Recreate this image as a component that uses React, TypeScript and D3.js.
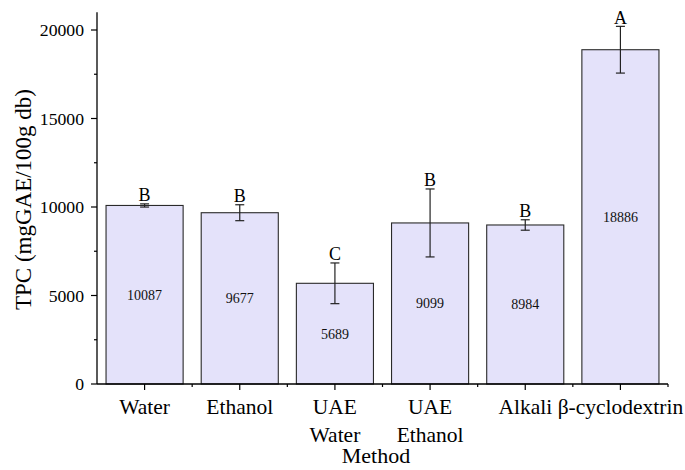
import React from "react";
import * as d3 from "d3";

// TPC by extraction method
const categories = ["Water", "Ethanol", "UAE\nWater", "UAE\nEthanol", "Alkali", "β-cyclodextrin"];
const tpcValues = [10087, 9677, 5689, 9099, 8984, 18886];
const tpcErrors = [90, 450, 1150, 1920, 295, 1320];
const groupLetters = ["B", "B", "C", "B", "B", "A"];
const yMajorTicks = [0, 5000, 10000, 15000, 20000];
const yMinorTicks = [2500, 7500, 12500, 17500];

const W = 685;
const H = 470;
const left = 97;
const right = 668;
const top = 12.3;
const bottom = 384;
const FONT = "Liberation Serif, Times New Roman, Times, DejaVu Serif, serif";

export default function App() {
  const x = d3
    .scaleBand<string>()
    .domain(categories)
    .range([left, right])
    .paddingInner(0.19)
    .paddingOuter(0.095);
  const y = d3.scaleLinear().domain([0, 21000]).range([bottom, top]);
  const step = x.step();
  const boundaries = d3.range(1, categories.length + 1).map((i) => left + i * step);

  return (
    <svg
      width={W}
      height={H}
      style={{ position: "absolute", left: 0, top: 0, background: "#fff", fontFamily: FONT }}
    >
      {/* bars */}
      {categories.map((c, i) => {
        const bx = x(c)!;
        const by = y(tpcValues[i]);
        return (
          <rect
            key={c}
            x={bx}
            y={by}
            width={x.bandwidth()}
            height={bottom - by}
            fill="#e4e2fa"
            stroke="#2a2a2a"
            strokeWidth={1.1}
          />
        );
      })}

      {/* error bars and group letters */}
      {categories.map((c, i) => {
        const cx = x(c)! + x.bandwidth() / 2;
        const hi = y(tpcValues[i] + tpcErrors[i]);
        const lo = y(tpcValues[i] - tpcErrors[i]);
        return (
          <g key={c} stroke="#222" strokeWidth={1.2}>
            <line x1={cx} x2={cx} y1={hi} y2={lo} />
            <line x1={cx - 4.5} x2={cx + 4.5} y1={hi} y2={hi} />
            <line x1={cx - 4.5} x2={cx + 4.5} y1={lo} y2={lo} />
            <text
              x={cx}
              y={hi - 2.5}
              textAnchor="middle"
              fontSize={18}
              fill="#000"
              stroke="none"
              style={{ fontFamily: FONT }}
            >
              {groupLetters[i]}
            </text>
          </g>
        );
      })}

      {/* value labels inside bars */}
      {categories.map((c, i) => (
        <text
          key={c}
          x={x(c)! + x.bandwidth() / 2}
          y={(y(tpcValues[i]) + bottom) / 2}
          dy="0.35em"
          textAnchor="middle"
          fontSize={14}
          fill="#111"
          style={{ fontFamily: FONT }}
        >
          {tpcValues[i]}
        </text>
      ))}

      {/* y axis */}
      <line x1={left} x2={left} y1={top} y2={bottom} stroke="#000" strokeWidth={1.3} />
      {yMajorTicks.map((t) => (
        <g key={t}>
          <line x1={left - 6} x2={left} y1={y(t)} y2={y(t)} stroke="#000" strokeWidth={1.2} />
          <text
            x={left - 13}
            y={y(t)}
            dy="0.35em"
            textAnchor="end"
            fontSize={17.7}
            fill="#000"
            style={{ fontFamily: FONT }}
          >
            {t}
          </text>
        </g>
      ))}
      {yMinorTicks.map((t) => (
        <line key={t} x1={left - 3} x2={left} y1={y(t)} y2={y(t)} stroke="#000" strokeWidth={1.2} />
      ))}

      {/* x axis */}
      <line x1={left} x2={right} y1={bottom} y2={bottom} stroke="#000" strokeWidth={1.3} />
      {categories.map((c) => {
        const cx = x(c)! + x.bandwidth() / 2;
        const lines = c.split("\n");
        return (
          <g key={c}>
            <line x1={cx} x2={cx} y1={bottom} y2={bottom + 6} stroke="#000" strokeWidth={1.2} />
            {lines.map((ln, j) => (
              <text
                key={j}
                x={cx}
                y={414 + j * 27.5}
                textAnchor="middle"
                fontSize={21.5}
                fill="#000"
                style={{ fontFamily: FONT }}
              >
                {ln}
              </text>
            ))}
          </g>
        );
      })}
      {boundaries.map((b, i) => (
        <line key={i} x1={b} x2={b} y1={bottom} y2={bottom + 3} stroke="#000" strokeWidth={1.2} />
      ))}

      {/* axis titles */}
      <text
        x={376}
        y={463}
        textAnchor="middle"
        fontSize={22}
        fill="#000"
        style={{ fontFamily: FONT }}
      >
        Method
      </text>
      <text
        transform={`translate(31, 199.5) rotate(-90)`}
        textAnchor="middle"
        fontSize={23}
        fill="#000"
        style={{ fontFamily: FONT }}
      >
        TPC (mgGAE/100g db)
      </text>
    </svg>
  );
}
